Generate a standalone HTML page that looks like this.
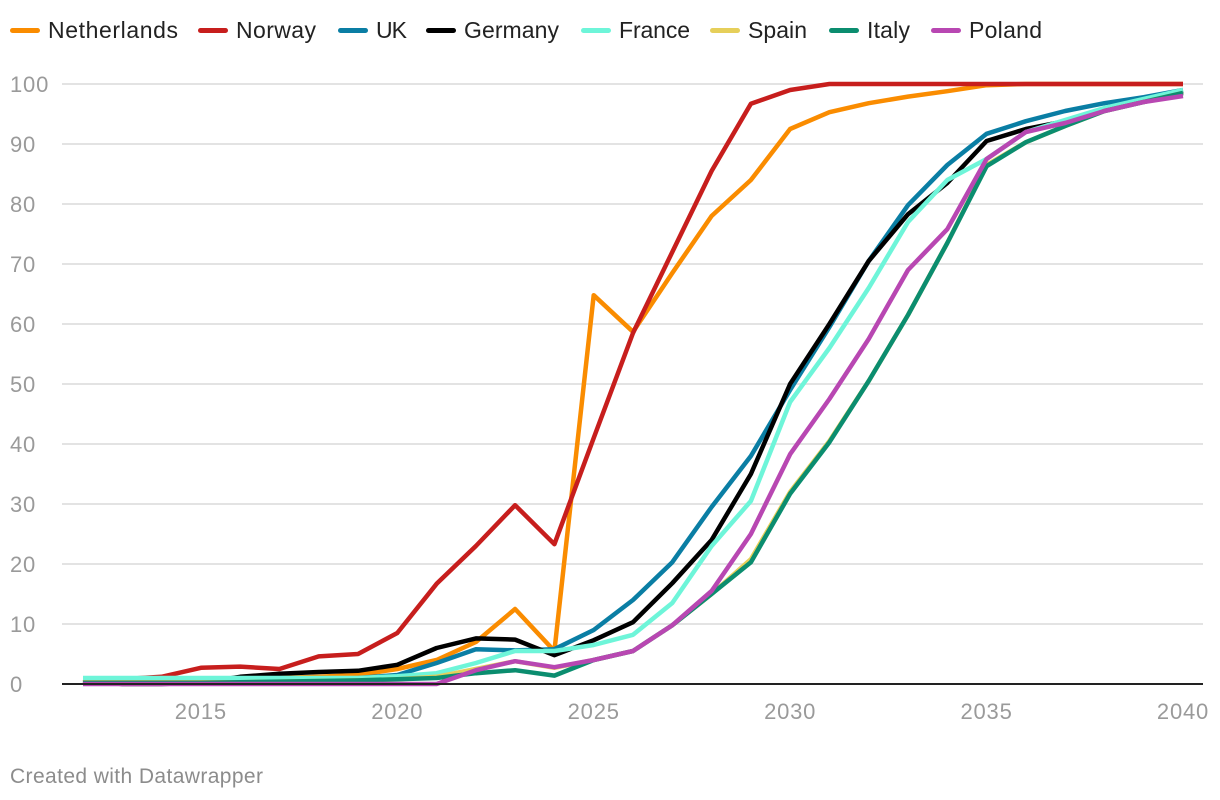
<!DOCTYPE html>
<html><head><meta charset="utf-8"><style>
body{margin:0;background:#fff;font-family:"Liberation Sans",Arial,sans-serif;}
svg{display:block}
</style></head><body>
<svg id="chart" width="1220" height="800"></svg>
<script>
const years=[2012,2013,2014,2015,2016,2017,2018,2019,2020,2021,2022,2023,2024,2025,2026,2027,2028,2029,2030,2031,2032,2033,2034,2035,2036,2037,2038,2039,2040];
const seriesNames=["Netherlands","Norway","UK","Germany","France","Spain","Italy","Poland"];
const seriesColors=["#fa8c00","#c71e1d","#0a7ea4","#000000","#6ef5d9","#e6cf5a","#0b8d6f","#b847b2"];
const netherlands=[0.5,0.5,0.5,0.5,1,1,1.2,1.5,2.5,4,7,12.5,5.5,64.8,58.7,68.5,78,84,92.5,95.3,96.8,97.9,98.8,99.8,100,100,100,100,100];
const norway=[0.3,0.8,1.2,2.7,2.9,2.5,4.6,5,8.5,16.7,23,29.8,23.3,41,58.5,72,85.5,96.7,99,100,100,100,100,100,100,100,100,100,100];
const uk=[0.3,0.3,0.3,0.3,0.5,0.7,0.8,1,1.5,3.5,5.8,5.6,5.8,9,14,20.3,29.5,38,49,59.5,70.5,79.8,86.5,91.7,93.8,95.5,96.8,97.8,99];
const germany=[0.5,0,0,0.2,1.2,1.7,2,2.2,3.2,6,7.6,7.4,4.8,7.3,10.3,16.8,24,35,50,60,70.5,78.3,83.5,90.5,92.5,93.8,95.5,97.2,98.8];
const france=[1,1,1,1,1,1,1,1,1.3,1.8,3.5,5.5,5.5,6.5,8.2,13.5,23,30.5,47,56,66,77,84,87.5,92,94,96,97.5,99];
const spain=[0.3,0.3,0.3,0.3,0.3,0.4,0.5,0.6,0.8,1.2,2.5,3.8,2.7,4,5.5,9.8,15,20.8,32,40.5,50.5,61.5,73.5,86.5,90.3,93,95.5,97,98.5];
const italy=[0.2,0.2,0.2,0.2,0.3,0.4,0.5,0.6,0.8,1,1.8,2.3,1.4,4,5.5,9.8,15,20.3,31.7,40.3,50.5,61.5,73.5,86.3,90.3,93,95.5,97,98.5];
const poland=[0,0,0,0,0,0,0,0,0,0,2.3,3.8,2.8,4,5.5,9.8,15.5,25,38.3,47.5,57.5,69,75.8,87.5,92,93.5,95.5,97,98];
const allSeries=[netherlands,norway,uk,germany,france,spain,italy,poland];
const yTicks=[0,10,20,30,40,50,60,70,80,90,100];
const xTicks=[2015,2020,2025,2030,2035,2040];

const NS="http://www.w3.org/2000/svg";
const svg=document.getElementById("chart");
const x=v=>83+(v-2012)*(1100/28);
const y=v=>684-v*6;
function mk(t,a){const e=document.createElementNS(NS,t);for(const k in a)e.setAttribute(k,a[k]);svg.appendChild(e);return e;}

yTicks.forEach(t=>{
  if(t>0){const g=mk("line",{x1:62,x2:1203,y1:y(t),y2:y(t),stroke:"#e3e3e3","stroke-width":2});
  
  }
  const l=mk("text",{x:10,y:y(t)+8,"font-size":22,fill:"#9a9a9a","letter-spacing":"0.8"});
  l.textContent=t;
  
  
});
xTicks.forEach(t=>{
  const l=mk("text",{x:x(t),y:719,"font-size":22,fill:"#9a9a9a","text-anchor":"middle","letter-spacing":"0.8"});
  l.textContent=t;
  
  
});
allSeries.forEach((s,i)=>{
  const d=s.map((v,j)=>(j?"L":"M")+x(years[j]).toFixed(1)+","+y(v).toFixed(1)).join("");
  const p=mk("path",{d:d,fill:"none",stroke:seriesColors[i],"stroke-width":4.5,"stroke-linejoin":"round"});
  
  
});
const ax=mk("line",{x1:62,x2:1203,y1:684,y2:684,stroke:"#222","stroke-width":2});



const legendX=[10,198,338,426,581,710,829,931];
seriesNames.forEach((n,i)=>{
  const g=document.createElementNS(NS,"g");svg.appendChild(g);
  
  
  const r=document.createElementNS(NS,"rect");
  r.setAttribute("x",legendX[i]);r.setAttribute("y",28);r.setAttribute("width",30);r.setAttribute("height",5);r.setAttribute("rx",2.5);r.setAttribute("fill",seriesColors[i]);
  g.appendChild(r);
  const t=document.createElementNS(NS,"text");
  t.setAttribute("x",legendX[i]+38);t.setAttribute("y",38);t.setAttribute("font-size",23);t.setAttribute("fill","#222");
  t.setAttribute("textLength",[130,80,31,95,71,59,43,73][i]);
  t.textContent=n;g.appendChild(t);
});
const f=mk("text",{x:10,y:783,"font-size":21,fill:"#8c8c8c","textLength":253});
f.textContent="Created with Datawrapper";


</script>
</body></html>
